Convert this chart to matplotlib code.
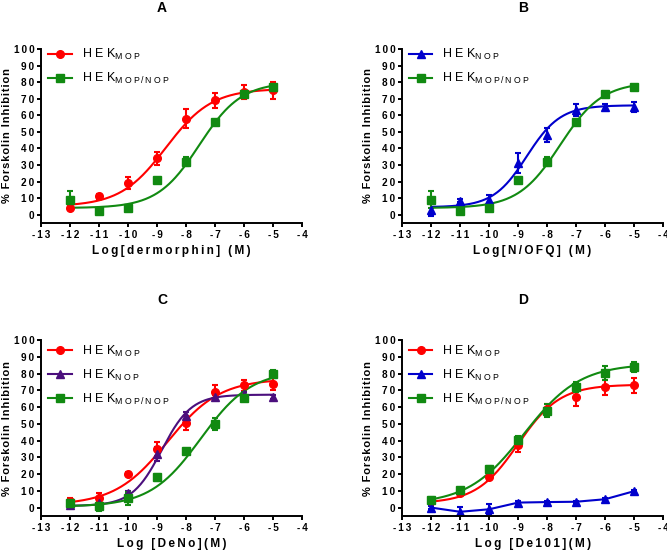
import numpy as np
import matplotlib
matplotlib.use("Agg")
import matplotlib.pyplot as plt
from matplotlib.lines import Line2D

plt.rcParams['font.family'] = ['Liberation Sans', 'DejaVu Sans']

# log concentration (M) used in every panel
log_conc = [-12, -11, -10, -9, -8, -7, -6, -5]

# panel A : dermorphin
A_mop = [4, 11, 19, 34, 58, 69, 74, 75]
A_mop_err = [1, 1.5, 3.5, 4, 6, 4.5, 4, 5]
A_mn = [9, 2, 4, 21, 32, 56, 73, 77]
A_mn_err = [5, 1, 1, 1, 2.5, 1, 1, 1.5]

# panel B : N/OFQ
B_nop = [3, 8.5, 9, 31, 48, 63, 65, 65]
B_nop_err = [4, 1, 3, 6, 4, 3.5, 2, 3]
B_mn = [9, 2, 4, 21, 32, 56, 73, 77]
B_mn_err = [5, 1, 1, 1, 2.5, 1, 1, 1.5]

# panel C : DeNo
C_mop = [4, 6, 20, 35, 50.5, 69, 73, 74]
C_mop_err = [1.5, 3, 1, 4, 4, 4, 3.5, 3.5]
C_nop = [1.5, 2.5, 9, 32, 55, 66, 68, 66]
C_nop_err = [1, 1, 1, 4, 2, 1.5, 1, 1]
C_mn = [3, 1, 5.5, 18, 34, 50, 65.5, 80]
C_mn_err = [2, 3, 4, 2, 1, 3.5, 2, 2]

# panel D : De101
D_mop = [4, 8.5, 18, 37.5, 59, 66, 72, 73]
D_mop_err = [2, 1, 1.5, 4, 3, 5.5, 4.5, 4.5]
D_nop = [0, -2.5, -1, 3, 3.3, 3.5, 5, 9.8]
D_nop_err = [1, 3, 3, 1, 0.5, 0.5, 1, 0.5]
D_mn = [4.5, 10.5, 23, 40.5, 58, 72, 80.5, 84]
D_mn_err = [2, 1.5, 2, 2, 4, 3, 4, 3]

# fitted sigmoid parameters: bottom, top, logEC50, hill
A_mop_fit = (5, 76, -8.7, 0.55)
A_mn_fit = (4, 80, -7.55, 0.6)
B_nop_fit = (4.5, 66, -8.7, 0.75)
B_mn_fit = (4, 80, -7.55, 0.6)
C_mop_fit = (1.5, 77, -8.65, 0.48)
C_nop_fit = (1, 67.5, -8.85, 0.85)
C_mn_fit = (0.5, 82, -7.5, 0.5)
D_mop_fit = (2.5, 73.5, -9.0, 0.6)
D_mn_fit = (2, 86, -8.8, 0.45)

RED = '#ff0000'
GREEN = '#118a11'
BLUE = '#0000cc'
PURPLE = '#4b0f7d'


def spaced(s, sep='\u2009'):
    return sep.join(s)


def sigmoid(x, p):
    bottom, top, ec50, hill = p
    return bottom + (top - bottom) / (1 + 10 ** ((ec50 - x) * hill))


def draw_series(ax, y, err, fit, color, marker):
    ax.errorbar(log_conc, y, yerr=err, fmt=marker, color=color, ms=5.5,
                capsize=2.5, elinewidth=1.5, capthick=1.5, lw=0)
    if fit is None:
        ax.plot(log_conc, y, color=color, lw=1.5)
    else:
        xs = np.linspace(log_conc[0], log_conc[-1], 200)
        ax.plot(xs, sigmoid(xs, fit), color=color, lw=1.5)


def style_axes(ax, xlabel):
    ax.set_xlim(-13, -4)
    ax.set_ylim(-5, 100)
    for s in ['top', 'right']:
        ax.spines[s].set_visible(False)
    for s in ['left', 'bottom']:
        ax.spines[s].set_linewidth(1.4)
    xt = list(range(-13, -3))
    ax.set_xticks(xt)
    ax.set_xticklabels([spaced(str(v)) for v in xt], fontsize=7.2, fontweight='bold')
    yt = list(range(0, 101, 10))
    ax.set_yticks(yt)
    ax.set_yticklabels([spaced(str(v)) for v in yt], fontsize=7.2, fontweight='bold')
    ax.tick_params(direction='out', length=3, width=1.4, pad=2)
    ax.set_xlabel(spaced(xlabel), fontsize=8.5, fontweight='bold', labelpad=4)
    ax.set_ylabel(spaced('% Forskolin Inhibition', '\u200a'), fontsize=8,
                  fontweight='bold', labelpad=1)


def add_legend(ax, entries, top_offset):
    handles = [Line2D([0], [0], color=c, marker=m, ms=5.5, lw=1.5) for c, m, _ in entries]
    labels = [lab for _, _, lab in entries]
    ax.legend(handles, labels, loc='upper left', bbox_to_anchor=(0.025, top_offset),
              frameon=False, fontsize=9, handlelength=1.9, handletextpad=0.8,
              labelspacing=0.7, borderaxespad=0, borderpad=0)


LAB_MOP = r'H E K$_{\mathregular{M\;O\;P}}$'
LAB_NOP = r'H E K$_{\mathregular{N\;O\;P}}$'
LAB_MN = r'H E K$_{\mathregular{M\;O\;P\,/\,N\;O\;P}}$'

fig = plt.figure(figsize=(6.67, 5.56), dpi=100)
axA = fig.add_axes([0.062, 0.599, 0.391, 0.313])
axB = fig.add_axes([0.603, 0.599, 0.391, 0.313])
axC = fig.add_axes([0.062, 0.072, 0.391, 0.316])
axD = fig.add_axes([0.603, 0.072, 0.391, 0.316])

# A
draw_series(axA, A_mop, A_mop_err, A_mop_fit, RED, 'o')
draw_series(axA, A_mn, A_mn_err, A_mn_fit, GREEN, 's')
style_axes(axA, 'Log[dermorphin] (M)')
add_legend(axA, [(RED, 'o', LAB_MOP), (GREEN, 's', LAB_MN)], 1.01)

# B
draw_series(axB, B_nop, B_nop_err, B_nop_fit, BLUE, '^')
draw_series(axB, B_mn, B_mn_err, B_mn_fit, GREEN, 's')
style_axes(axB, 'Log[N/OFQ] (M)')
add_legend(axB, [(BLUE, '^', LAB_NOP), (GREEN, 's', LAB_MN)], 1.01)

# C
draw_series(axC, C_mop, C_mop_err, C_mop_fit, RED, 'o')
draw_series(axC, C_nop, C_nop_err, C_nop_fit, PURPLE, '^')
draw_series(axC, C_mn, C_mn_err, C_mn_fit, GREEN, 's')
style_axes(axC, 'Log [DeNo](M)')
add_legend(axC, [(RED, 'o', LAB_MOP), (PURPLE, '^', LAB_NOP), (GREEN, 's', LAB_MN)], 0.98)

# D
draw_series(axD, D_mop, D_mop_err, D_mop_fit, RED, 'o')
draw_series(axD, D_nop, D_nop_err, None, BLUE, '^')
draw_series(axD, D_mn, D_mn_err, D_mn_fit, GREEN, 's')
style_axes(axD, 'Log [De101](M)')
add_legend(axD, [(RED, 'o', LAB_MOP), (BLUE, '^', LAB_NOP), (GREEN, 's', LAB_MN)], 0.98)

for lab, x, y in [('A', 162, 8), ('B', 523, 8), ('C', 162, 300), ('D', 523, 300)]:
    fig.text(x / 667, 1 - y / 556, lab, fontsize=10, fontweight='bold',
             ha='center', va='center')

fig.savefig('out.png', dpi=100)
